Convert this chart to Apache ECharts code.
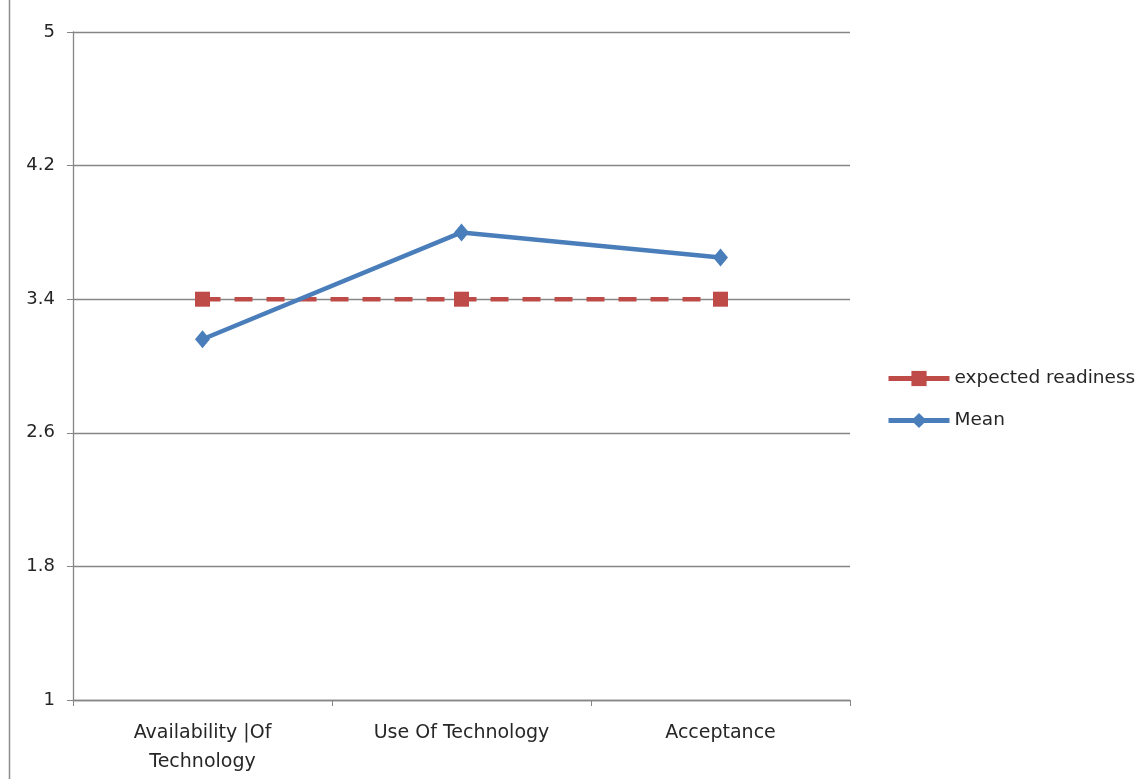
<!DOCTYPE html>
<html>
<head>
<meta charset="utf-8">
<script src="https://cdn.jsdelivr.net/npm/echarts@6/dist/echarts.min.js"></script>
<style>
  html, body { margin: 0; padding: 0; background: #ffffff; }
  #chart { width: 1144px; height: 779px; }
</style>
</head>
<body>
<div id="chart"></div>
<script>
// Readiness dimensions and their scores
const categories = ['Availability |Of\nTechnology', 'Use Of Technology', 'Acceptance'];
const expectedReadiness = [3.4, 3.4, 3.4];
const meanScores = [3.16, 3.8, 3.65];
const yTicks = { min: 1, max: 5, step: 0.8 };

const chart = echarts.init(document.getElementById('chart'));
const font = '"DejaVu Sans", "Open Sans", sans-serif';

chart.setOption({
  backgroundColor: '#ffffff',
  animation: false,
  textStyle: { fontFamily: font },
  graphic: [{
    type: 'line',
    shape: { x1: 9.5, y1: 0, x2: 9.5, y2: 779 },
    style: { stroke: '#8c8c8c', lineWidth: 1.5 }
  }],
  grid: { left: 73, right: 294, top: 32, bottom: 79 },
  legend: {
    orient: 'vertical',
    left: 881,
    top: 364,
    itemWidth: 61,
    itemHeight: 19,
    itemGap: 23,
    textStyle: { fontSize: 18.5, color: '#262626', fontFamily: font },
    data: [
      { name: 'expected readiness', lineStyle: { type: 'solid', width: 5 } },
      { name: 'Mean', lineStyle: { width: 5 } }
    ]
  },
  xAxis: {
    type: 'category',
    data: categories,
    boundaryGap: true,
    axisLine: { lineStyle: { color: '#868686', width: 1.3 } },
    axisTick: { show: true, length: 6, alignWithLabel: false, lineStyle: { color: '#868686' } },
    axisLabel: { color: '#262626', fontSize: 19, margin: 19, lineHeight: 29, fontFamily: font }
  },
  yAxis: {
    type: 'value',
    min: yTicks.min,
    max: yTicks.max,
    interval: yTicks.step,
    axisLine: { show: true, lineStyle: { color: '#868686', width: 1.3 } },
    axisTick: { show: true, length: 6, lineStyle: { color: '#868686' } },
    axisLabel: {
      color: '#262626', fontSize: 18, margin: 18, fontFamily: font,
      formatter: v => String(Math.round(v * 10) / 10)
    },
    splitLine: { show: true, lineStyle: { color: '#868686', width: 1.3 } }
  },
  series: [
    {
      name: 'expected readiness',
      type: 'line',
      data: expectedReadiness,
      symbol: 'rect',
      symbolSize: 15,
      itemStyle: { color: '#be4b48' },
      lineStyle: { color: '#be4b48', width: 4.5, type: [18, 14] },
      z: 3
    },
    {
      name: 'Mean',
      type: 'line',
      data: meanScores,
      symbol: 'diamond',
      symbolSize: [15, 18],
      itemStyle: { color: '#4a7ebb' },
      lineStyle: { color: '#4a7ebb', width: 4.5 },
      z: 4
    }
  ]
});
</script>
</body>
</html>
